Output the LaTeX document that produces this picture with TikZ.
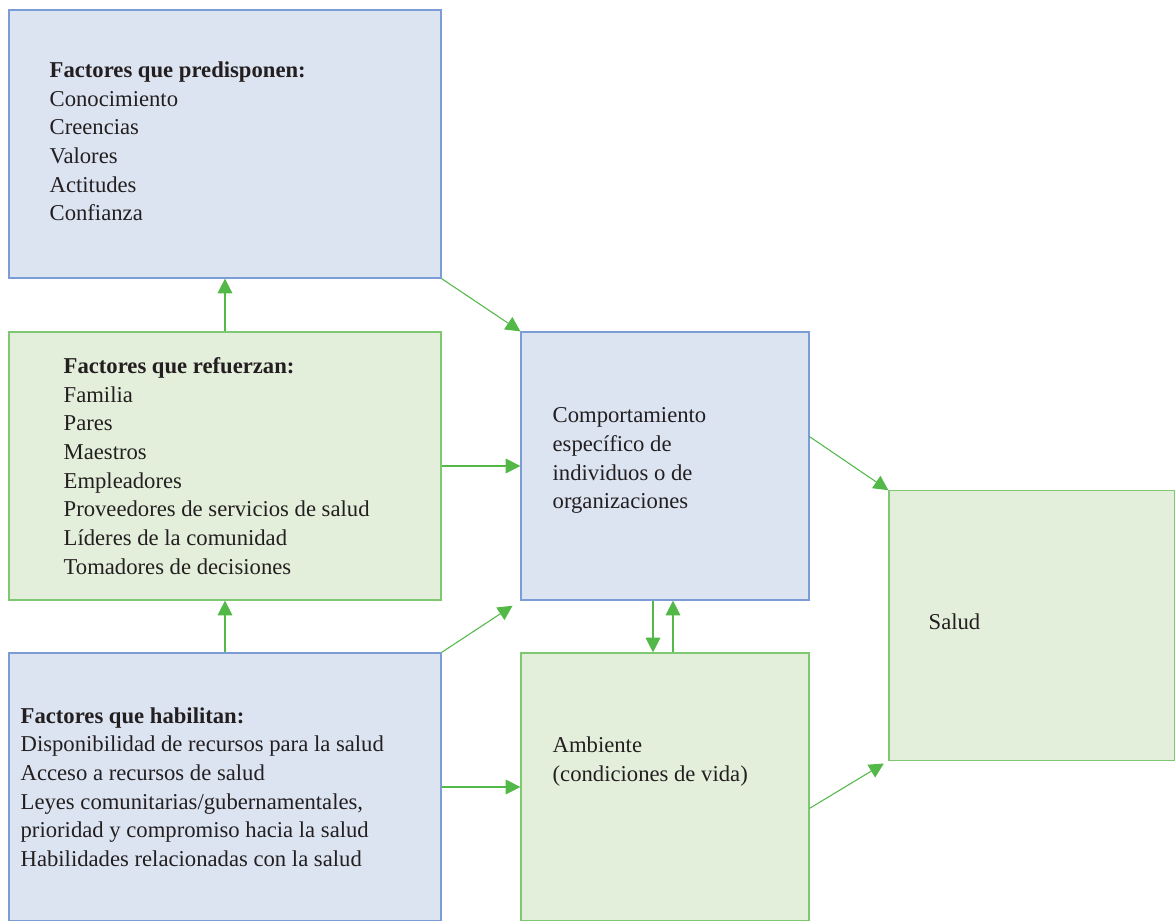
\documentclass[tikz,border=0pt]{standalone}
\usepackage{fontspec}
\setmainfont{Liberation Serif}
\usetikzlibrary{positioning,arrows.meta}
\definecolor{azulfondo}{HTML}{DCE4F2}
\definecolor{azulborde}{HTML}{7C9CD6}
\definecolor{verdefondo}{HTML}{E3EFDB}
\definecolor{verdeborde}{HTML}{7DC870}
\definecolor{flechaverde}{HTML}{52B848}
\definecolor{textocolor}{HTML}{231F20}
\begin{document}
\begin{tikzpicture}[x=0.75pt,y=-0.75pt,
		caja/.style={line width=0.9pt,minimum width=324pt,minimum height=201pt,inner sep=0pt},
		azul/.style={caja,fill=azulfondo,draw=azulborde},
		verde/.style={caja,fill=verdefondo,draw=verdeborde},
		texto/.style={inner sep=0pt,align=left,text=textocolor,font=\fontsize{17}{21.5}\selectfont},
		flecha/.style={draw=flechaverde,line width=0.8pt,-{Triangle[length=11pt,width=11pt]},flechaverde}]
	\useasboundingbox (0,0) rectangle (1175,921);
	\node[azul] (pred) at (225,144) {};
	\node[verde] (ref) at (225,466) {};
	\node[azul] (hab) at (225,787) {};
	\node[azul,minimum width=216pt] (comp) at (665,466) {};
	\node[verde,minimum width=216pt] (amb) at (665,787) {};
	\node[verde,minimum width=214.5pt,minimum height=202pt] (salud) at (1032,625.5) {};
	\node[texto,right=30.75pt of pred.west,yshift=2pt] (tpred) {\textbf{Factores que predisponen:}\\Conocimiento\\Creencias\\Valores\\Actitudes\\Confianza};
	\node[texto,right=41.25pt of ref.west] (tref) {\textbf{Factores que refuerzan:}\\Familia\\Pares\\Maestros\\Empleadores\\Proveedores de servicios de salud\\Líderes de la comunidad\\Tomadores de decisiones};
	\node[texto,right=9pt of hab.west] (thab) {\textbf{Factores que habilitan:}\\Disponibilidad de recursos para la salud\\Acceso a recursos de salud\\Leyes comunitarias/gubernamentales,\\prioridad y compromiso hacia la salud\\Habilidades relacionadas con la salud};
	\node[texto,right=24pt of comp.west,yshift=4pt] (tcomp) {Comportamiento\\específico de\\individuos o de\\organizaciones};
	\node[texto,right=24pt of amb.west,yshift=19pt] (tamb) {Ambiente\\(condiciones de vida)};
	\node[texto,right=30pt of salud.west,yshift=3pt] (tsalud) {Salud};
	\draw[flecha] (ref.north) -- (pred.south);
	\draw[flecha] (hab.north) -- (ref.south);
	\draw[flecha] (pred.south east) -- (comp.north west);
	\draw[flecha] (ref.east) -- (comp.west);
	\draw[flecha,shorten >=7pt] (hab.north east) -- (comp.south west);
	\draw[flecha] (hab.east) -- (amb.west);
	\draw[flecha] ([xshift=-9pt]comp.south) -- ([xshift=-9pt]amb.north);
	\draw[flecha] ([xshift=6pt]amb.north) -- ([xshift=6pt]comp.south);
	\draw[flecha] ([yshift=22pt]comp.east) -- (salud.north west);
	\draw[flecha,shorten >=4pt] ([yshift=-16pt]amb.east) -- (salud.south west);
\end{tikzpicture}
\end{document}
